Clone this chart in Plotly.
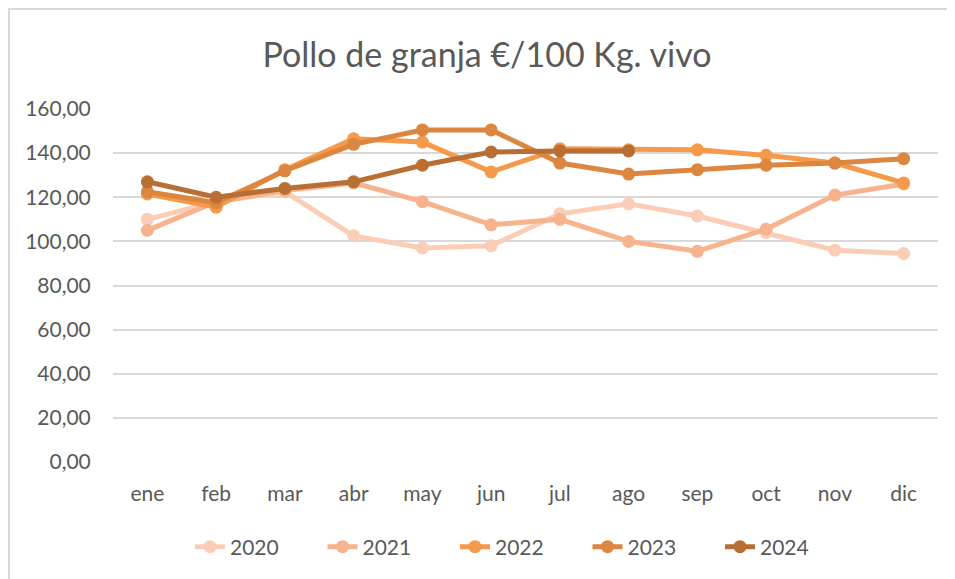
import plotly.graph_objects as go

months = ["ene", "feb", "mar", "abr", "may", "jun", "jul", "ago", "sep", "oct", "nov", "dic"]
s2020 = [110, 118, 122.5, 102.5, 97, 98, 112.5, 117, 111.5, 104, 96, 94.5]
s2021 = [105, 118, 123, 126.5, 118, 107.5, 110, 100, 95.5, 105.5, 121, 126]
s2022 = [121.5, 115.5, 132.5, 146.5, 145, 131.5, 142, 141.5, 141.5, 139, 135.5, 126.5]
s2023 = [122.5, 117.5, 132, 144, 150.5, 150.5, 135.5, 130.5, 132.5, 134.5, 135.5, 137.5]
s2024 = [127, 120, 124, 127, 134.5, 140.5, 141, 141, None, None, None, None]
series_names = ["2020", "2021", "2022", "2023", "2024"]
colors = ["#FBCDB6", "#F7B38E", "#F5994A", "#DC863F", "#B96F33"]
ytick_vals = [0, 20, 40, 60, 80, 100, 120, 140, 160]
ytick_text = ["0,00", "20,00", "40,00", "60,00", "80,00", "100,00", "120,00", "140,00", "160,00"]

FONT = "Lato"
W, H = 947, 571  # page body has an 8px margin
L, R, T, B = 105, 17, 101, 117
PW = W - L - R
PH = H - T - B

fig = go.Figure()
for name, vals, c in zip(series_names, [s2020, s2021, s2022, s2023, s2024], colors):
    fig.add_trace(go.Scatter(
        x=months, y=vals, name=name, mode="lines+markers",
        line=dict(color=c, width=5),
        marker=dict(color=c, size=13),
        connectgaps=False,
    ))

fig.update_layout(
    width=W, height=H,
    margin=dict(l=L, r=R, t=T, b=B, autoexpand=False),
    paper_bgcolor="white", plot_bgcolor="white",
    font=dict(family=FONT, color="#595959", size=21),
    title=dict(text="Pollo de granja €/100 Kg. vivo", xref="container", x=479 / W, xanchor="center",
               y=1 - 47 / H, yanchor="middle",
               font=dict(family=FONT, size=34, color="#595959")),
    showlegend=True,
    legend=dict(orientation="h", x=(513.5 - L) / PW, xanchor="center",
                y=-(539 - (H - B)) / PH, yanchor="middle",
                font=dict(family=FONT, size=21, color="#595959"),
                entrywidth=87.5, entrywidthmode="pixels", tracegroupgap=0),
    xaxis=dict(type="category", range=[-0.5, 11.5], showgrid=False, zeroline=False,
               showline=False, ticks="outside", ticklen=13, tickcolor="rgba(0,0,0,0)",
               tickfont=dict(family=FONT, size=21, color="#595959")),
    yaxis=dict(range=[0, 160], tickvals=ytick_vals, ticktext=ytick_text,
               showgrid=True, gridcolor="#D9D9D9", gridwidth=1.5, zeroline=False,
               showline=False, ticks="outside", ticklen=17, tickcolor="rgba(0,0,0,0)",
               tickfont=dict(family=FONT, size=21, color="#595959")),
    shapes=[dict(type="rect", xref="paper", yref="paper",
                 x0=(1 - L) / PW, x1=(W + 20 - L) / PW,
                 y0=-(H + 20 - (H - B)) / PH, y1=(H - B - 1) / PH,
                 line=dict(color="#D9D9D9", width=2), layer="below")],
)

fig.write_html("out.html")
